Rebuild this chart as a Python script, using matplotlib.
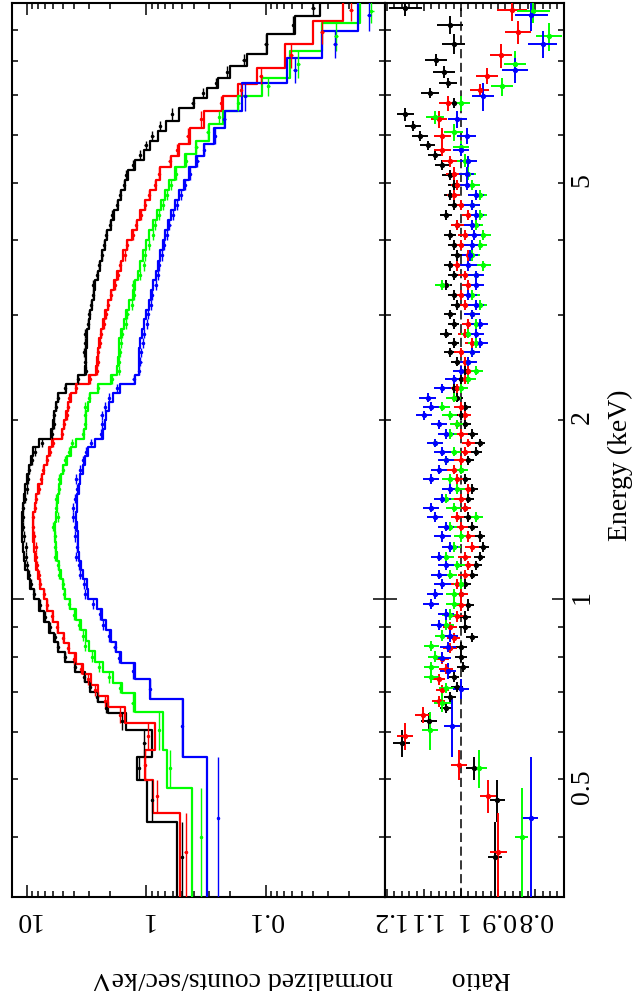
import numpy as np
import matplotlib
matplotlib.use('Agg')
import matplotlib.pyplot as plt
from matplotlib.ticker import FixedLocator, FuncFormatter, MultipleLocator, LogLocator

plt.rcParams['font.family'] = ['Liberation Serif', 'DejaVu Serif']

# общие бины средней части спектра, кэВ
mid_edges = [1.00, 1.04, 1.08, 1.12, 1.16, 1.20, 1.25, 1.30, 1.35, 1.40, 1.45, 1.50,
             1.56, 1.62, 1.68, 1.74, 1.80, 1.86, 1.93, 2.00, 2.07, 2.14, 2.22, 2.30,
             2.38, 2.46, 2.55, 2.64, 2.74, 2.84, 2.95, 3.06, 3.18, 3.30, 3.43, 3.56,
             3.70, 3.85, 4.00, 4.16, 4.32, 4.49, 4.67, 4.85, 5.05]

# ---- чёрный ----
bk_lo_edges = [0.317, 0.424, 0.498, 0.544, 0.604, 0.645, 0.672, 0.700, 0.727, 0.755,
               0.785, 0.815, 0.848, 0.880, 0.915, 0.955]
bk_hi_edges = [5.25, 5.45, 5.66, 5.88, 6.10, 6.35, 6.68, 6.94, 7.21, 7.50, 7.85, 8.22,
               8.88, 9.52, 10.1]
bk_model_lo = [0.552, 0.985, 1.19, 0.894, 1.48, 2.1, 2.53, 2.95, 3.25, 3.94, 4.78, 5.47,
               5.95, 6.5, 7.15, 7.9]
bk_model_mid = [8.7, 9.3, 9.8, 10.3, 10.6, 10.8, 11.0, 11.0, 10.9, 10.8, 10.6, 10.3, 9.9,
                9.5, 9.2, 8.9, 7.9, 6.3, 6.0, 5.9, 5.7, 5.45, 4.7, 3.7, 3.25, 3.22, 3.19,
                3.16, 3.12, 3.03, 2.93, 2.85, 2.76, 2.66, 2.55, 2.42, 2.33, 2.22, 2.11,
                1.98, 1.85, 1.73, 1.62, 1.51]
bk_model_hi = [1.42, 1.23, 1.05, 0.93, 0.80, 0.68, 0.53, 0.40, 0.31, 0.25, 0.20, 0.143,
               0.0975, 0.0569, 0.0351]
bk_ratio_lo = [0.908, 0.902, 0.964, 1.160, 1.086, 1.04, 1.03, 1.01, 1.02, 0.995, 1.00,
               1.00, 0.97, 0.99, 0.99, 0.98]
bk_ratio_mid = [1.00, 0.99, 0.97, 0.96, 0.95, 0.94, 0.95, 0.97, 0.98, 0.99, 0.98, 0.97,
                0.99, 1.00, 0.98, 0.96, 0.95, 0.97, 0.99, 1.00, 0.99, 1.01, 1.02, 1.00,
                0.99, 1.01, 1.03, 1.02, 1.04, 1.02, 1.03, 1.01, 1.02, 1.04, 1.02, 1.03,
                1.01, 1.02, 1.03, 1.01, 1.04, 1.02, 1.03, 1.02]
bk_ratio_hi = [1.03, 1.05, 1.07, 1.09, 1.11, 1.13, 1.15, 1.02, 1.084, 1.035, 1.046, 1.068,
               1.02, 1.03, 1.15]
bk_err_lo = [0.02, 0.02, 0.022, 0.023, 0.022]
bk_err_mid = 0.016
bk_err_hi = [0.02, 0.02, 0.02, 0.02, 0.022, 0.022, 0.022, 0.025, 0.025, 0.025, 0.03, 0.03,
             0.03, 0.035, 0.045]

# ---- красный ----
rd_lo_edges = [0.317, 0.438, 0.498, 0.559, 0.621, 0.660, 0.690, 0.720, 0.750, 0.780,
               0.812, 0.845, 0.880, 0.918, 0.958]
rd_hi_edges = [5.30, 5.55, 5.81, 6.18, 6.60, 6.99, 7.32, 7.79, 8.55, 9.34, 10.1]
rd_model_lo = [0.521, 0.877, 1.02, 0.844, 1.50, 2.1, 2.55, 2.9, 3.35, 3.85, 4.4, 4.85,
               5.45, 6.05, 6.7]
rd_model_mid = [7.2, 7.7, 8.0, 8.3, 8.5, 8.7, 8.85, 8.9, 8.8, 8.6, 8.35, 8.0, 7.5, 7.2,
                6.8, 6.5, 6.1, 5.05, 4.85, 4.65, 4.5, 4.3, 3.85, 3.0, 2.62, 2.57, 2.54,
                2.50, 2.40, 2.30, 2.22, 2.10, 1.97, 1.86, 1.74, 1.64, 1.55, 1.45, 1.31,
                1.20, 1.12, 1.03, 0.93, 0.83]
rd_model_hi = [0.76, 0.62, 0.53, 0.43, 0.33, 0.228, 0.170, 0.118, 0.0689, 0.0402, 0.0225]
rd_ratio_lo = [0.899, 0.928, 1.005, 1.151, 1.102, 1.06, 1.05, 1.06, 1.04, 1.05, 1.03,
               1.02, 1.03, 1.01, 1.00]
rd_ratio_mid = [1.00, 1.01, 0.99, 0.98, 0.99, 0.97, 0.98, 1.00, 1.01, 0.99, 1.00, 0.98,
                1.01, 1.02, 1.00, 0.99, 0.98, 1.00, 1.01, 0.99, 1.00, 1.02, 1.01, 0.99,
                0.98, 0.99, 1.00, 0.97, 0.99, 0.98, 0.97, 0.99, 1.00, 0.98, 0.99, 1.01,
                0.98, 1.00, 0.99, 1.01, 0.98, 1.00, 1.02, 1.01]
rd_ratio_hi = [1.02, 1.03, 1.05, 1.05, 1.06, 1.035, 0.95, 0.93, 0.893, 0.846, 0.862]
rd_err_lo = [0.022, 0.022, 0.022, 0.022, 0.022]
rd_err_mid = 0.018
rd_err_hi = [0.02, 0.02, 0.022, 0.022, 0.022, 0.025, 0.025, 0.03, 0.03, 0.035, 0.04]

# ---- зелёный ----
gr_lo_edges = [0.317, 0.483, 0.559, 0.647, 0.696, 0.725, 0.755, 0.786, 0.818, 0.852,
               0.887, 0.924, 0.962]
gr_hi_edges = [5.30, 5.58, 5.88, 6.28, 6.60, 6.99, 7.50, 8.32, 9.27, 10.1]
gr_model_lo = [0.414, 0.670, 0.723, 1.24, 1.6, 1.9, 2.3, 2.68, 3.0, 3.2, 3.5, 3.9, 4.35]
gr_model_mid = [4.75, 4.95, 5.2, 5.4, 5.55, 5.7, 5.8, 5.8, 5.7, 5.6, 5.5, 5.35, 5.2, 4.95,
                4.6, 4.3, 3.9, 3.3, 3.2, 3.17, 3.1, 2.95, 2.55, 1.98, 1.75, 1.72, 1.70,
                1.69, 1.62, 1.53, 1.48, 1.39, 1.30, 1.23, 1.17, 1.12, 1.06, 1.00, 0.94,
                0.88, 0.82, 0.75, 0.70, 0.64]
gr_model_hi = [0.58, 0.47, 0.38, 0.30, 0.23, 0.17, 0.107, 0.0626, 0.0338, 0.0163]
gr_ratio_lo = [0.836, 0.951, 1.084, 1.05, 1.04, 1.08, 1.08, 1.07, 1.08, 1.05, 1.04, 1.03,
               1.02]
gr_ratio_mid = [1.02, 1.00, 1.03, 1.01, 1.04, 1.02, 1.00, 1.03, 0.96, 1.02, 1.04, 1.01,
                1.03, 1.00, 1.04, 1.02, 1.07, 1.03, 1.01, 1.03, 1.05, 1.02, 1.00, 0.98,
                0.96, 0.98, 0.97, 0.96, 0.98, 0.96, 0.97, 0.95, 0.97, 1.05, 0.96, 0.94,
                0.97, 0.95, 0.94, 0.96, 0.95, 0.97, 0.95, 0.97]
gr_ratio_hi = [0.98, 0.99, 1.00, 1.02, 1.07, 1.00, 0.89, 0.854, 0.762, 0.805]
gr_err_lo = [0.018, 0.02, 0.022, 0.022]
gr_err_mid = 0.02
gr_err_hi = [0.02, 0.022, 0.022, 0.025, 0.025, 0.025, 0.03, 0.03, 0.035, 0.045]

# ---- синий ----
bl_lo_edges = [0.317, 0.544, 0.681, 0.736, 0.782, 0.815, 0.850, 0.887, 0.925, 0.962]
bl_hi_edges = [5.30, 5.55, 5.81, 6.18, 6.60, 7.35, 8.10, 8.99, 10.1]
bl_model_lo = [0.310, 0.492, 0.929, 1.24, 1.62, 1.78, 1.97, 2.15, 2.35, 2.6]
bl_model_mid = [3.05, 3.15, 3.35, 3.5, 3.62, 3.7, 3.75, 3.8, 3.85, 3.8, 3.78, 3.65, 3.55,
                3.4, 3.25, 3.05, 2.7, 2.3, 2.22, 2.15, 2.05, 1.88, 1.66, 1.25, 1.15, 1.14,
                1.14, 1.13, 1.09, 1.04, 1.00, 0.95, 0.91, 0.87, 0.83, 0.80, 0.76, 0.73,
                0.70, 0.66, 0.62, 0.57, 0.53, 0.48]
bl_model_hi = [0.44, 0.38, 0.33, 0.27, 0.22, 0.158, 0.0663, 0.0338, 0.0169]
bl_ratio_lo = [0.812, 1.024, 1.0, 1.035, 1.05, 1.035, 1.03, 1.06, 1.04, 1.08]
bl_ratio_mid = [1.07, 1.05, 1.06, 1.04, 1.06, 1.03, 1.05, 1.04, 1.07, 1.08, 1.05, 1.03,
                1.08, 1.06, 1.04, 1.05, 1.07, 1.04, 1.06, 1.10, 1.08, 1.09, 1.05, 1.02,
                1.00, 0.98, 0.97, 0.95, 0.96, 0.95, 0.97, 0.96, 0.98, 0.96, 0.96, 0.98,
                0.975, 0.97, 0.965, 0.97, 0.96, 0.97, 0.96, 0.985]
bl_ratio_hi = [0.985, 0.98, 1.0, 0.985, 1.01, 0.94, 0.854, 0.78, 0.81]
bl_err_lo = [0.02, 0.022, 0.022, 0.022]
bl_err_mid = 0.022
bl_err_hi = [0.02, 0.022, 0.022, 0.025, 0.025, 0.03, 0.035, 0.04, 0.045]

# деления по оси энергии
energy_major = [1, 10]
energy_minor = [0.4, 0.5, 0.6, 0.7, 0.8, 0.9, 2, 3, 4, 5, 6, 7, 8, 9]
energy_labels = {0.5: '0.5', 1.0: '1', 2.0: '2', 5.0: '5'}


def build(lo_edges, hi_edges, m_lo, m_mid, m_hi, r_lo, r_mid, r_hi, e_lo, e_mid, e_hi):
    edges = np.array(lo_edges + mid_edges + hi_edges)
    model = np.array(m_lo + m_mid + m_hi)
    ratio = np.array(r_lo + r_mid + r_hi)
    n_mid = len(model) - len(e_lo) - len(e_hi)
    err = np.array(e_lo + [e_mid] * n_mid + e_hi)
    return edges, model, ratio, err


spectra = [
    ('black', build(bk_lo_edges, bk_hi_edges, bk_model_lo, bk_model_mid, bk_model_hi,
                    bk_ratio_lo, bk_ratio_mid, bk_ratio_hi, bk_err_lo, bk_err_mid, bk_err_hi)),
    ('red', build(rd_lo_edges, rd_hi_edges, rd_model_lo, rd_model_mid, rd_model_hi,
                  rd_ratio_lo, rd_ratio_mid, rd_ratio_hi, rd_err_lo, rd_err_mid, rd_err_hi)),
    ('#00ff00', build(gr_lo_edges, gr_hi_edges, gr_model_lo, gr_model_mid, gr_model_hi,
                      gr_ratio_lo, gr_ratio_mid, gr_ratio_hi, gr_err_lo, gr_err_mid, gr_err_hi)),
    ('blue', build(bl_lo_edges, bl_hi_edges, bl_model_lo, bl_model_mid, bl_model_hi,
                   bl_ratio_lo, bl_ratio_mid, bl_ratio_hi, bl_err_lo, bl_err_mid, bl_err_hi)),
]

W, H = 634, 991
fig = plt.figure(figsize=(W / 100, H / 100), dpi=100)
ax1 = fig.add_axes([12.3 / W, 1 - 897 / H, (385 - 12.3) / W, 894 / H])
ax2 = fig.add_axes([385 / W, 1 - 897 / H, (564 - 385) / W, 894 / H], sharey=ax1)

ax2.axvline(1.0, color='black', lw=1.1, ls=(0, (6, 3)), zorder=1)

for color, (edges, model, ratio, err) in spectra:
    lo, hi = edges[:-1], edges[1:]
    cen = (lo + hi) / 2
    data = model * ratio
    # модель ступеньками
    ys = np.column_stack([lo, hi]).ravel()
    xs = np.repeat(model, 2)
    ax1.plot(xs, ys, color=color, lw=1.6, zorder=3)
    ax1.errorbar(data, cen, xerr=data * err, yerr=[cen - lo, hi - cen], fmt='.', ms=3,
                 color=color, elinewidth=1.0, capsize=0, zorder=4)
    ax2.errorbar(ratio, cen, xerr=err, yerr=[cen - lo, hi - cen], fmt='o', ms=2.8,
                 color=color, elinewidth=1.4, capsize=0, zorder=3)

ax1.set_xscale('log')
ax1.set_yscale('log')
ax1.set_xlim(13.2, 0.01005)
ax1.set_ylim(0.317, 10.0)
ax2.set_xlim(1.205, 0.722)

ax1.yaxis.set_major_locator(FixedLocator(energy_major))
ax1.yaxis.set_minor_locator(FixedLocator(energy_minor))
ax1.yaxis.set_major_formatter(FuncFormatter(lambda v, p: energy_labels.get(round(v, 2), '')))
ax1.yaxis.set_minor_formatter(FuncFormatter(lambda v, p: energy_labels.get(round(v, 2), '')))

ax1.xaxis.set_major_locator(LogLocator(base=10))
ax1.xaxis.set_minor_locator(LogLocator(base=10, subs=(2, 3, 4, 5, 6, 7, 8, 9)))
ax1.xaxis.set_major_formatter(FuncFormatter(lambda v, p: '%g' % v))
ax1.xaxis.set_minor_formatter(FuncFormatter(lambda v, p: ''))

ax2.xaxis.set_major_locator(MultipleLocator(0.1))
ax2.xaxis.set_minor_locator(MultipleLocator(0.02))
ax2.xaxis.set_major_formatter(FuncFormatter(lambda v, p: '%g' % round(v, 2)))

for ax in (ax1, ax2):
    for s in ax.spines.values():
        s.set_linewidth(1.5)
    ax.tick_params(which='both', direction='in', top=True, bottom=True, left=True,
                   right=True, width=1.1, labelsize=20)
    ax.tick_params(which='major', length=8.5)
    ax.tick_params(which='minor', length=4.5)
    ax.tick_params(axis='x', which='both', labelrotation=180, pad=7)

ax2.tick_params(axis='x', which='major', length=6)
ax1.tick_params(axis='y', which='both', labelleft=False, labelright=False)
ax2.tick_params(axis='y', which='both', labelleft=False, labelright=True,
                labelrotation=90, pad=4)

fig.text(620 / W, 1 - 465 / H, 'Energy (keV)', rotation=90, ha='center', va='center',
         fontsize=20)
fig.text(242 / W, 1 - 979 / H, 'normalized counts/sec/keV', rotation=180, ha='center',
         va='center', fontsize=20)
fig.text(480 / W, 1 - 979 / H, 'Ratio', rotation=180, ha='center', va='center', fontsize=20)

fig.savefig('out.png', dpi=100)
